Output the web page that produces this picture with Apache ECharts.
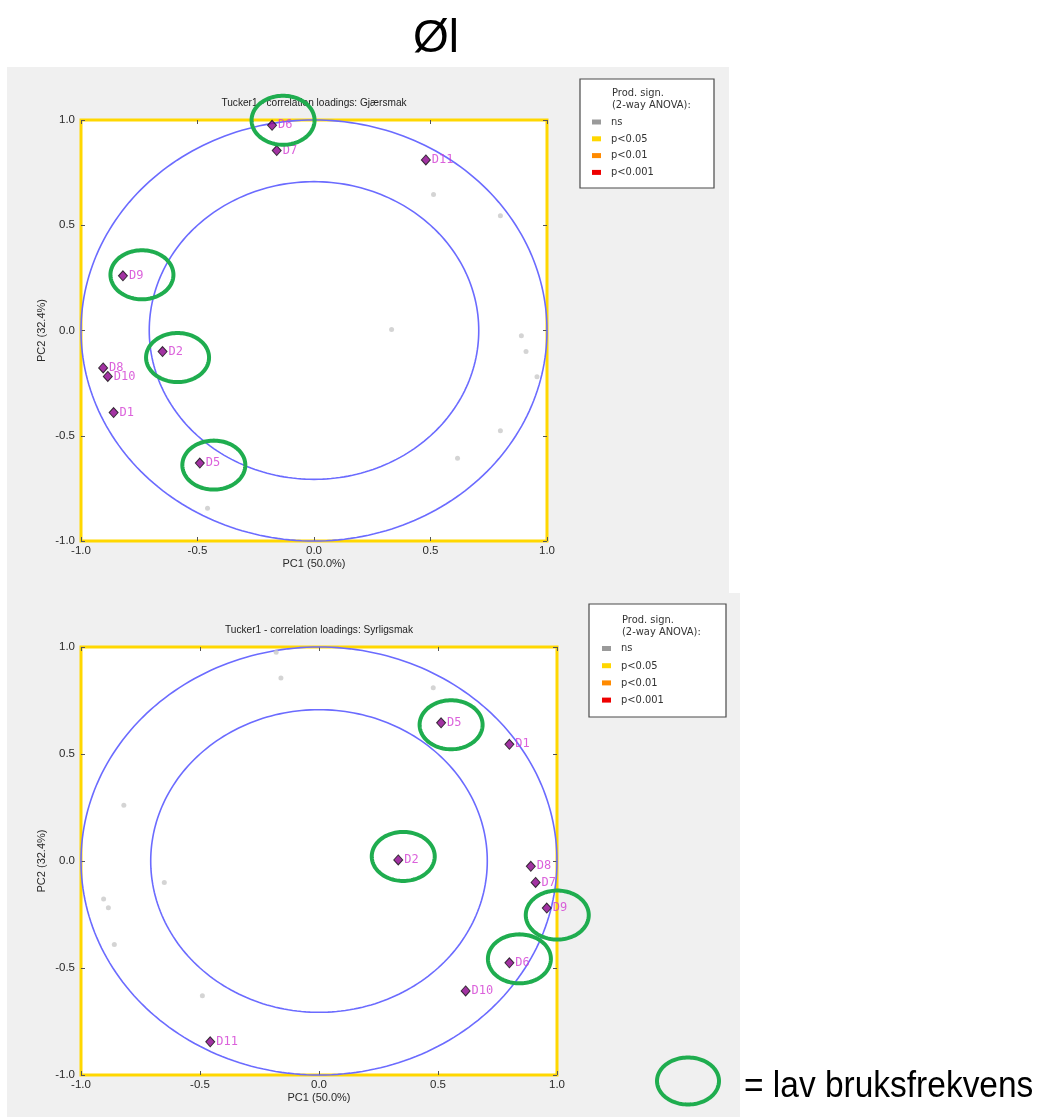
<!DOCTYPE html>
<html>
<head>
<meta charset="utf-8">
<title>Øl – Tucker1 correlation loadings</title>
<script src="https://cdn.jsdelivr.net/npm/echarts@6/dist/echarts.min.js"></script>
<style>
  html, body { margin: 0; padding: 0; background: #ffffff; }
  #chart { width: 1039px; height: 1117px; }
</style>
</head>
<body>
<div id="chart"></div>
<script>
// ---- Data -------------------------------------------------------------
const assessors = ['D1', 'D2', 'D5', 'D6', 'D7', 'D8', 'D9', 'D10', 'D11'];

// Tucker1 correlation loadings per assessor, attribute "Gjærsmak"
const gjaersmakPC1 = [-0.86, -0.65, -0.49, -0.18, -0.16, -0.905, -0.82, -0.885, 0.48];
const gjaersmakPC2 = [-0.39, -0.10, -0.63, 0.975, 0.855, -0.178, 0.26, -0.218, 0.81];

// Tucker1 correlation loadings per assessor, attribute "Syrligsmak"
const syrligsmakPC1 = [0.80, 0.333, 0.513, 0.80, 0.91, 0.89, 0.957, 0.616, -0.457];
const syrligsmakPC2 = [0.545, 0.005, 0.646, -0.476, -0.10, -0.025, -0.22, -0.607, -0.845];

// assessors with low usage frequency (ringed in green)
const lowUsage = ['D2', 'D5', 'D6', 'D9'];

// explained-variance circles (fraction of variance -> radius sqrt(f))
const varianceLevels = [1.0, 0.5];

// axis ticks and labels
const axisTicks = [-1.0, -0.5, 0.0, 0.5, 1.0];
const pc1Name = 'PC1 (50.0%)';
const pc2Name = 'PC2 (32.4%)';

const sigLevels = ['ns', 'p<0.05', 'p<0.01', 'p<0.001'];
const sigColors = ['#9a9a9a', '#ffd700', '#ff8a00', '#ee0000'];

// ---- Layout / style -----------------------------------------------------
const panels = [
  {
    title: 'Tucker1 - correlation loadings: Gjærsmak',
    pc1: gjaersmakPC1, pc2: gjaersmakPC2,
    otherPc1: syrligsmakPC1, otherPc2: syrligsmakPC2,
    significance: 'p<0.05',
    grid: { left: 81, top: 120, width: 466, height: 421 },
    bg: { x: 7, y: 67, width: 722, height: 526 },
    legendBox: { x: 580, y: 79, width: 134, height: 109, textX: 611, titleY: 93, itemY: 122, step: 16.8 },
    ringNudge: { D6: [11, -5], D9: [19, -1], D2: [15, 6], D5: [14, 2] }
  },
  {
    title: 'Tucker1 - correlation loadings: Syrligsmak',
    pc1: syrligsmakPC1, pc2: syrligsmakPC2,
    otherPc1: gjaersmakPC1, otherPc2: gjaersmakPC2,
    significance: 'p<0.05',
    grid: { left: 81, top: 647, width: 476, height: 428 },
    bg: { x: 7, y: 593, width: 733, height: 524 },
    legendBox: { x: 589, y: 604, width: 137, height: 113, textX: 621, titleY: 620, itemY: 648.5, step: 17.2 },
    ringNudge: { D5: [10, 2], D2: [5, -3.5], D9: [10.5, 7], D6: [10, -4] }
  }
];

const ringColor = '#1fad4f';
const ringRx = 31.5, ringRy = 24.5;
const circleColor = '#6b6bff';
const pointFill = '#8b008b';
const labelColor = '#d23ad2';
const textColor = '#2a2a2a';

function ellipsePoints(cx, cy, rx, ry) {
  const pts = [];
  for (let i = 0; i < 120; i++) {
    const a = i / 120 * Math.PI * 2;
    pts.push([cx + rx * Math.cos(a), cy + ry * Math.sin(a)]);
  }
  return pts;
}

const option = {
  animation: false,
  backgroundColor: '#ffffff',
  grid: [], xAxis: [], yAxis: [], series: [], graphic: []
};

const tickLabelStyle = { fontFamily: 'Liberation Sans', fontSize: 11.5, color: textColor };
const axisNameStyle = { fontFamily: 'Liberation Sans', fontSize: 11, color: textColor };

panels.forEach((p, gi) => {
  const frameColor = sigColors[sigLevels.indexOf(p.significance)];

  option.grid.push(Object.assign({
    show: true, backgroundColor: '#ffffff',
    borderColor: frameColor, borderWidth: 3
  }, p.grid));

  const common = {
    gridIndex: gi, type: 'value', min: axisTicks[0], max: axisTicks[axisTicks.length - 1],
    interval: axisTicks[1] - axisTicks[0],
    axisLine: { show: false, onZero: false }, splitLine: { show: false },
    axisTick: { show: true, inside: true, length: 4, lineStyle: { color: '#555555', width: 1 } }
  };

  option.xAxis.push(Object.assign({}, common, {
    position: 'bottom',
    axisLabel: Object.assign({ margin: 4, formatter: v => v.toFixed(1) }, tickLabelStyle),
    name: pc1Name, nameLocation: 'middle', nameGap: 17, nameTextStyle: axisNameStyle
  }));
  option.xAxis.push(Object.assign({}, common, { position: 'top', axisLabel: { show: false } }));

  option.yAxis.push(Object.assign({}, common, {
    position: 'left',
    axisLabel: Object.assign({ margin: 6, formatter: v => v.toFixed(1) }, tickLabelStyle),
    name: pc2Name, nameLocation: 'middle', nameGap: 34, nameTextStyle: axisNameStyle
  }));
  option.yAxis.push(Object.assign({}, common, { position: 'right', axisLabel: { show: false } }));

  const xi = gi * 2, yi = gi * 2;

  // explained variance circles
  option.series.push({
    type: 'custom', xAxisIndex: xi, yAxisIndex: yi, z: 1, silent: true,
    data: varianceLevels.map(f => [0, 0, Math.sqrt(f)]),
    renderItem: (params, api) => {
      const r = api.value(2);
      const pts = [];
      for (let i = 0; i <= 240; i++) {
        const a = i / 240 * Math.PI * 2;
        pts.push(api.coord([api.value(0) + r * Math.cos(a), api.value(1) + r * Math.sin(a)]));
      }
      return { type: 'polyline', shape: { points: pts }, style: { stroke: circleColor, lineWidth: 1.6, fill: null } };
    }
  });

  // other attribute loadings (not significant -> grey)
  option.series.push({
    name: 'ns', type: 'scatter', xAxisIndex: xi, yAxisIndex: yi, z: 2, silent: true,
    symbol: 'circle', symbolSize: 5,
    itemStyle: { color: '#c9c9c9' },
    data: assessors.map((a, i) => [p.otherPc1[i], p.otherPc2[i]])
  });

  // this attribute's loadings per assessor
  option.series.push({
    name: p.significance, type: 'scatter', xAxisIndex: xi, yAxisIndex: yi, z: 3, silent: true,
    symbol: 'diamond', symbolSize: [9, 10],
    itemStyle: { color: pointFill, borderColor: '#111111', borderWidth: 1 },
    label: {
      show: true, position: 'right', distance: 1, formatter: '{b}',
      fontFamily: 'DejaVu Sans Mono', fontSize: 12, color: labelColor
    },
    data: assessors.map((a, i) => ({ name: a, value: [p.pc1[i], p.pc2[i]] }))
  });

  // green rings around low-usage assessors
  const ringed = assessors.map((a, i) => ({ name: a, value: [p.pc1[i], p.pc2[i]] }))
    .filter(d => lowUsage.includes(d.name));
  option.series.push({
    type: 'custom', xAxisIndex: xi, yAxisIndex: yi, z: 10, silent: true, clip: false,
    data: ringed,
    renderItem: (params, api) => {
      const c = api.coord([api.value(0), api.value(1)]);
      const n = p.ringNudge[ringed[params.dataIndex].name] || [12, 0];
      return {
        type: 'polygon',
        shape: { points: ellipsePoints(c[0] + n[0], c[1] + n[1], ringRx, ringRy) },
        style: { stroke: ringColor, lineWidth: 4, fill: null }
      };
    }
  });

  // panel background
  option.graphic.push({
    type: 'rect', z: -10, silent: true,
    shape: p.bg, style: { fill: '#f0f0f0' }
  });

  // panel title
  option.graphic.push({
    type: 'text', x: p.grid.left + p.grid.width / 2, y: p.grid.top - 17, scaleX: 0.88, z: 5,
    style: {
      text: p.title, fontFamily: 'Liberation Sans', fontSize: 11.5, fill: '#222222',
      align: 'center', verticalAlign: 'middle'
    }
  });

  // significance legend box
  const lb = p.legendBox;
  option.graphic.push({
    type: 'rect', z: 5, shape: { x: lb.x, y: lb.y, width: lb.width, height: lb.height },
    style: { fill: '#ffffff', stroke: '#4a4a4a', lineWidth: 1.2 }
  });
  ['Prod. sign.', '(2-way ANOVA):'].forEach((t, k) => {
    option.graphic.push({
      type: 'text', z: 6, x: lb.textX + 1, y: lb.titleY + k * 12, scaleX: 0.9,
      style: { text: t, fontFamily: 'DejaVu Sans', fontSize: 11, fill: '#333333', align: 'left', verticalAlign: 'middle' }
    });
  });
  sigLevels.forEach((s, k) => {
    const yy = lb.itemY + k * lb.step;
    option.graphic.push({
      type: 'rect', z: 6, shape: { x: lb.textX - 19, y: yy - 2.5, width: 9, height: 5 },
      style: { fill: sigColors[k] }
    });
    option.graphic.push({
      type: 'text', z: 6, x: lb.textX, y: yy, scaleX: 0.9,
      style: { text: s, fontFamily: 'DejaVu Sans', fontSize: 11, fill: '#333333', align: 'left', verticalAlign: 'middle' }
    });
  });
});

// page heading
option.graphic.push({
  type: 'text', x: 436, y: 39, z: 5,
  style: { text: 'Øl', fontFamily: 'Liberation Sans', fontSize: 46, fill: '#000000', align: 'center', verticalAlign: 'middle' }
});

// ring key
option.graphic.push({
  type: 'polygon', z: 5, silent: true,
  shape: { points: ellipsePoints(688, 1081, 31, 23.5) },
  style: { stroke: ringColor, lineWidth: 4, fill: null }
});
option.graphic.push({
  type: 'text', x: 744, y: 1087, z: 5, scaleX: 0.93,
  style: { text: '= lav bruksfrekvens', fontFamily: 'Liberation Sans', fontSize: 36, fill: '#000000', align: 'left', verticalAlign: 'middle' }
});

const chart = echarts.init(document.getElementById('chart'), null, { renderer: 'canvas' });
chart.setOption(option);
</script>
</body>
</html>
